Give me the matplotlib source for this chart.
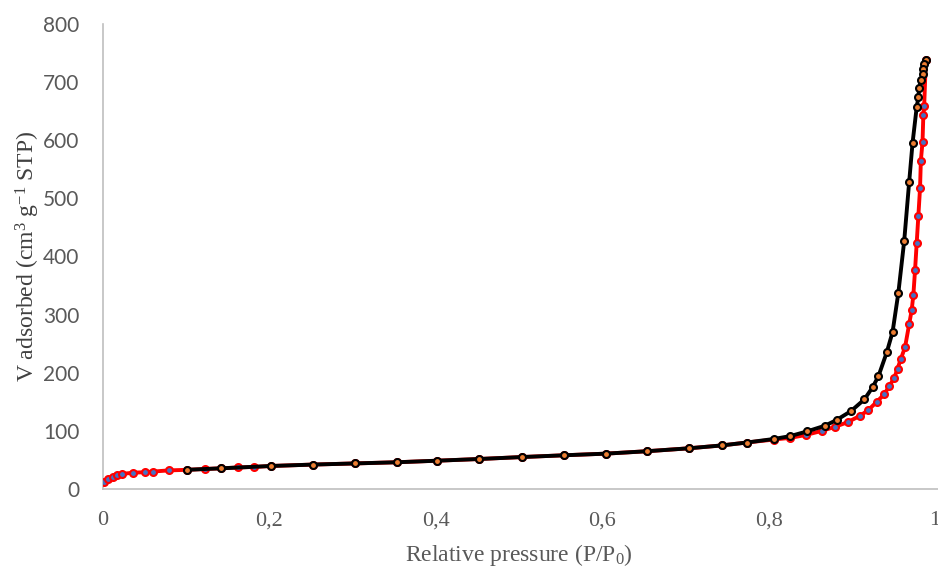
import matplotlib
matplotlib.use('Agg')
import matplotlib.pyplot as plt

# adsorption branch (red)
p_ads = [0.001, 0.006, 0.012, 0.017, 0.023, 0.036, 0.051, 0.060, 0.079, 0.101,
         0.122, 0.142, 0.162, 0.182, 0.202, 0.252, 0.303, 0.353, 0.402, 0.452,
         0.504, 0.554, 0.604, 0.654, 0.704, 0.744, 0.774, 0.806, 0.826, 0.845,
         0.864, 0.880, 0.895, 0.910, 0.920, 0.930, 0.939, 0.945, 0.951, 0.955,
         0.959, 0.964, 0.969, 0.972, 0.974, 0.976, 0.978, 0.980, 0.982, 0.983,
         0.985, 0.986, 0.987, 0.989]
v_ads = [12.5, 18, 21, 24, 26, 28, 29, 30, 32, 33,
         34.4, 35.6, 37, 38, 39.6, 42, 44, 46, 48.7, 51.6,
         55, 58, 60.8, 65, 70, 75, 80, 85, 88, 93,
         100, 107, 115, 126, 136, 150, 163, 177, 191, 207,
         224, 244, 284, 308, 334, 376, 423, 470, 517, 565,
         597, 644, 659, 738]

# desorption branch (black)
p_des = [0.989, 0.987, 0.986, 0.985, 0.983, 0.981, 0.980, 0.978, 0.973, 0.969,
         0.963, 0.956, 0.949, 0.942, 0.932, 0.925, 0.915, 0.899, 0.882, 0.868,
         0.846, 0.826, 0.806, 0.774, 0.744, 0.704, 0.654, 0.604, 0.554, 0.504,
         0.452, 0.402, 0.353, 0.303, 0.252, 0.202, 0.142, 0.101]
v_des = [738, 731, 723, 714, 703, 690, 674, 657, 595, 529,
         427, 338, 270, 235, 194, 175, 154, 134, 119, 109,
         99, 91, 86, 80, 75, 70, 65, 60.8, 58, 55,
         51.6, 48.7, 46, 44, 42, 39.6, 35.6, 33]

xticks = [0, 0.2, 0.4, 0.6, 0.8, 1.0]
xticklabels = ['0', '0,2', '0,4', '0,6', '0,8', '1']
yticks = [0, 100, 200, 300, 400, 500, 600, 700, 800]

plt.rcParams['mathtext.fontset'] = 'custom'
plt.rcParams['mathtext.rm'] = 'Liberation Serif'
plt.rcParams['mathtext.it'] = 'Liberation Serif:italic'

fig = plt.figure(figsize=(9.38, 5.68), dpi=100)
ax = fig.add_axes([103/938, 1-489/568, 832/938, 465/568])

ax.plot(p_ads, v_ads, color='#FF0000', lw=2.8, marker='o', ms=5,
        mfc='#4472C4', mec='#FF0000', mew=1.5, zorder=3)
ax.plot(p_des, v_des, color='black', lw=2.8, marker='o', ms=5,
        mfc='#ED7D31', mec='black', mew=1.5, zorder=4)

ax.set_xlim(0, 1)
ax.set_ylim(0, 800)
ax.set_xticks(xticks)
ax.set_xticklabels(xticklabels, fontfamily='Liberation Serif', fontsize=16, color='#595959')
ax.set_yticks(yticks)
ax.set_yticklabels([str(t) for t in yticks], fontfamily='Lato', fontsize=15, color='#595959')
ax.tick_params(axis='x', length=0, pad=16)
ax.tick_params(axis='y', length=0, pad=17)

for s in ['top', 'right']:
    ax.spines[s].set_visible(False)
for s in ['left', 'bottom']:
    ax.spines[s].set_color('#BFBFBF')
    ax.spines[s].set_linewidth(1.2)
ax.spines['bottom'].set_bounds(0, 1.004)
ax.spines['bottom'].set_clip_on(False)

ax.set_xlabel('Relative pressure (P/P$_0$)', fontfamily='Liberation Serif',
              fontsize=17, color='#595959')
ax.xaxis.set_label_coords(0.5, -0.115)
ax.set_ylabel('V adsorbed (cm$^3$ g$^{-1}$ STP)', fontfamily='Liberation Serif',
              fontsize=17, color='#404040')
ax.yaxis.set_label_coords(-0.073, 0.5)

fig.savefig('out.png', dpi=100)
